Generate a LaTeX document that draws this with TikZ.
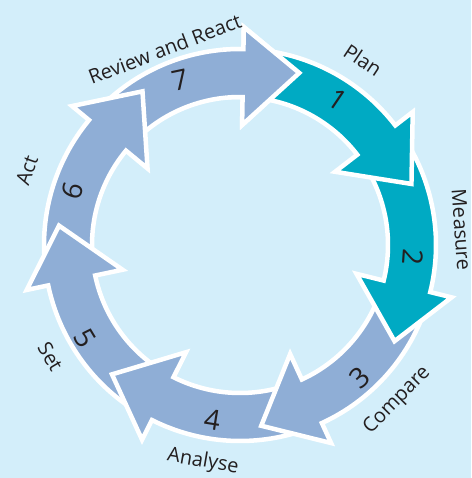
\documentclass[tikz,border=0pt]{standalone}
\usepackage{fontspec}
\setmainfont{Open Sans}
\definecolor{bgblue}{HTML}{D3EEFA}
\definecolor{lav}{HTML}{8FAED6}
\definecolor{teal}{HTML}{00AAC3}
\definecolor{ink}{HTML}{231F20}
\tikzset{
  arrowpiece/.style={draw=white, line width=4.5, line join=miter, miter limit=10},
  lbl/.style={font=\fontsize{20}{22}\selectfont, text=ink, inner sep=0},
  num/.style={font=\fontsize{28}{30}\selectfont, text=ink, inner sep=0}
}
\newcommand{\cyclearrow}[2]{%
  \pgfmathsetmacro{\ab}{#1+18}%
  \pgfmathsetmacro{\at}{#1+64}%
  \filldraw[arrowpiece, fill=#2] (\at:196) arc[start angle=\at, end angle=\ab, radius=196]
    -- (\ab:218) -- (#1:182) -- (\ab:120) -- (\ab:148)
    arc[start angle=\ab, end angle=\at, radius=148] -- cycle;}
\begin{document}
\begin{tikzpicture}[x=1pt,y=1pt]
\useasboundingbox (0,0) rectangle (471,-478);
\fill[bgblue] (0,0) rectangle (471,-478);
\begin{scope}[shift={(240,-245)}]
  \cyclearrow{71}{lav}
  \cyclearrow{122.4}{lav}
  \cyclearrow{173.9}{lav}
  \cyclearrow{-134.7}{lav}
  \cyclearrow{-83.3}{lav}
  \cyclearrow{-31.9}{teal}
  \cyclearrow{19.6}{teal}
  \begin{scope}
    \clip (0,0) -- (58:260) arc[start angle=58, end angle=95, radius=260] -- cycle;
    \cyclearrow{71}{lav}
  \end{scope}
  % numbers
  \node[num, rotate=12]  (n7) at (110:176) {7};
  \node[num, rotate=-34] (n1) at (56:175) {1};
  \node[num, rotate=-94] (n2) at (-4:173) {2};
  \node[num, rotate=42]  (n3) at (-48:179) {3};
  \node[num, rotate=-9]  (n4) at (-99:177) {4};
  \node[num, rotate=-59] (n5) at (-149:181) {5};
  \node[num, rotate=72]  (n6) at (162:176) {6};
  % labels
  \node[lbl, rotate=21]    (l7) at (111:210) {Review and React};
  \node[lbl, rotate=-33.6] (l1) at (56.4:222) {Plan};
  \node[lbl, rotate=-86]   (l2) at (3.9:222) {Measure};
  \node[lbl, rotate=45.4]  (l3) at (-44.6:221) {Compare};
  \node[lbl, rotate=-9.7]  (l4) at (-99.7:220) {Analyse};
  \node[lbl, rotate=-59.5] (l5) at (-149.5:220) {Set};
  \node[lbl, rotate=70.6]  (l6) at (160.6:226) {Act};
\end{scope}
\end{tikzpicture}
\end{document}
